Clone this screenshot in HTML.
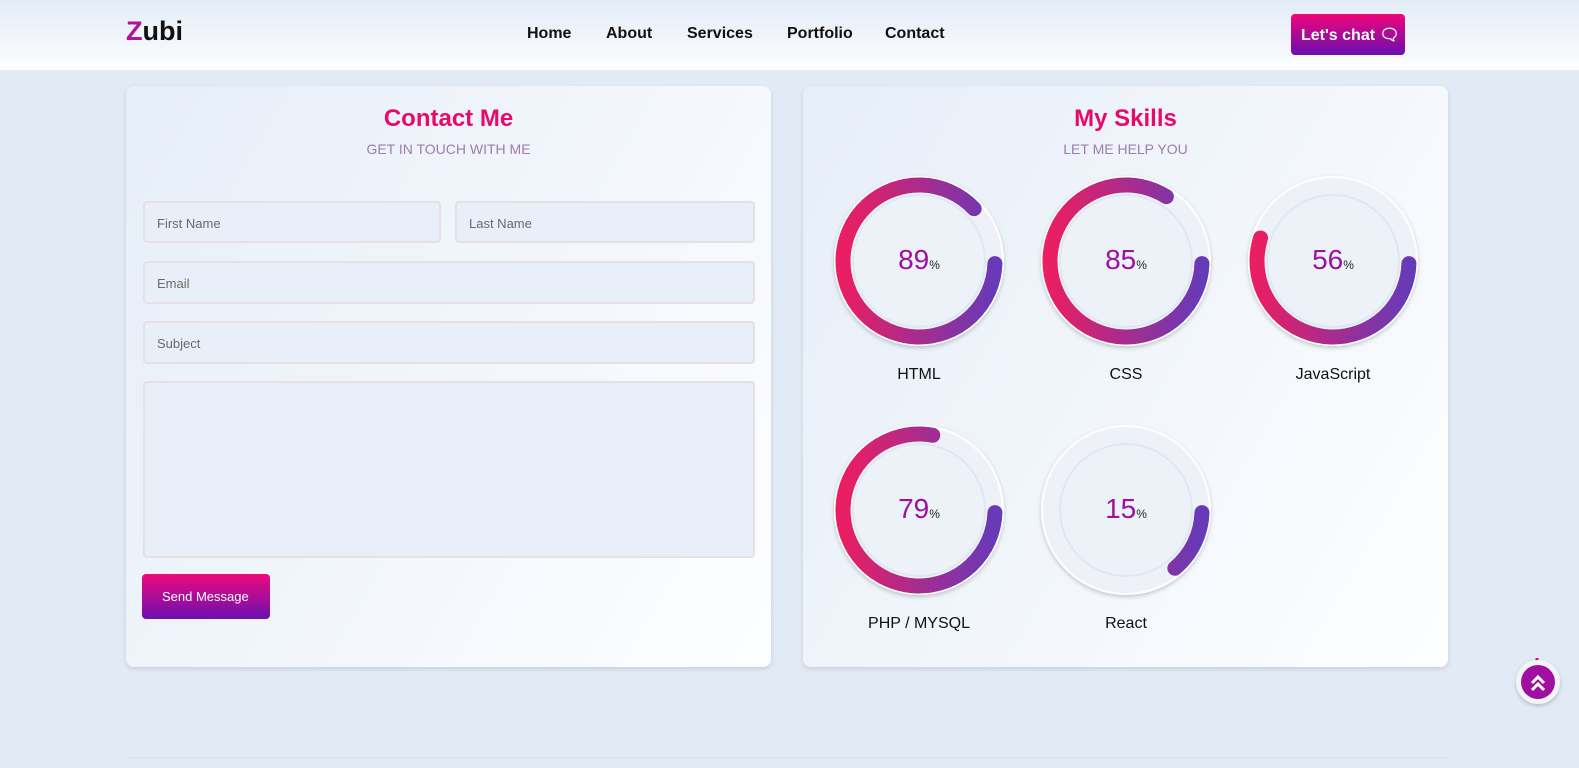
<!DOCTYPE html>
<html><head><meta charset="utf-8"><style>
*{box-sizing:border-box;margin:0;padding:0}
body{width:1579px;height:768px;overflow:hidden;background:#e2ebf5;font-family:"Liberation Sans",sans-serif;position:relative}
.hdr{position:absolute;left:0;top:0;width:1579px;height:70px;background:linear-gradient(#e4ecf6,#fcfdff)}
.logo{position:absolute;left:126px;top:16px;font-size:27px;font-weight:bold;color:#111}
.logo span{color:#b0109a}
.nav a{position:absolute;top:25px;font-size:16px;font-weight:bold;color:#111;text-decoration:none}
.chat{position:absolute;left:1291px;top:14px;width:114px;height:41px;border-radius:4px;background:linear-gradient(#f0067a,#6a0eb0);color:#fff;font-size:16px;font-weight:bold;padding:11px 0 0 10px}
.card{position:absolute;top:86px;width:645px;height:581px;border-radius:8px;background:linear-gradient(120deg,#e6eef8,#fdfeff);box-shadow:0 2px 5px rgba(0,0,0,.12)}
.h2{position:absolute;width:100%;text-align:center;top:19px;font-size:24px;font-weight:bold;color:#e8096c}
.sub{position:absolute;width:100%;text-align:center;top:55px;font-size:14px;color:#a07ab0}
.f{position:absolute;border:2px solid #e6dfe3;border-radius:4px;background:#e8eff8;font-size:13px;color:#6a6a6a;padding:13px 12px}
.btn{position:absolute;left:16px;top:488px;width:128px;height:45px;border-radius:4px;background:linear-gradient(#ee0a7c,#6a10b0);color:#fff;font-size:13px;padding:15px 0 0 20px}
.pct{position:absolute;width:180px;text-align:center;font-size:28px;color:#9d10a0}
.pct small{font-size:12px;color:#222}
.lbl{position:absolute;width:180px;text-align:center;font-size:16px;color:#111}
</style></head><body>
<div class="hdr">
<div class="logo"><span>Z</span>ubi</div>
<div class="nav"><a style="left:527px">Home</a><a style="left:606px">About</a><a style="left:687px">Services</a><a style="left:787px">Portfolio</a><a style="left:885px">Contact</a></div>
<div class="chat">Let's chat &#128488;</div>
</div>
<div class="card" style="left:126px">
<div class="h2">Contact Me</div><div class="sub">GET IN TOUCH WITH ME</div>
<div class="f" style="left:17px;top:115px;width:298px;height:42px">First Name</div>
<div class="f" style="left:329px;top:115px;width:300px;height:42px">Last Name</div>
<div class="f" style="left:17px;top:175px;width:612px;height:43px">Email</div>
<div class="f" style="left:17px;top:235px;width:612px;height:43px">Subject</div>
<div class="f" style="left:17px;top:295px;width:612px;height:177px"></div>
<div class="btn">Send Message</div>
</div>
<div class="card" style="left:803px">
<div class="h2">My Skills</div><div class="sub">LET ME HELP YOU</div>
</div>
<svg style="position:absolute;left:0;top:0" width="1579" height="768">
<defs>
<linearGradient id="g" x1="0" x2="1" y1="0" y2="0"><stop offset="0" stop-color="#ea1e62"/><stop offset="1" stop-color="#673ab7"/></linearGradient>
<filter id="sh"><feDropShadow dx="0" dy="2" stdDeviation="2" flood-opacity=".2"/></filter>
</defs>
<g id="c">
</g>
</svg>
<div id="sk"></div>
<script>
var d=[[919,261,89,"HTML"],[1126,261,85,"CSS"],[1333,261,56,"JavaScript"],[919,510,79,"PHP / MYSQL"],[1126,510,15,"React"]];
var s='',h='',C=2*Math.PI*76;
d.forEach(function(a){var x=a[0],y=a[1];
s+='<circle cx="'+x+'" cy="'+y+'" r="84" fill="#eef2f8" stroke="#fff" stroke-width="2" filter="url(#sh)"/>';
s+='<circle cx="'+x+'" cy="'+y+'" r="66" fill="#edf2f8" stroke="#dfe7f1" stroke-width="2"/>';
var len=C*a[2]/100-8;
s+='<g transform="translate('+x+' '+y+')"><circle r="76" fill="none" stroke="url(#g)" stroke-width="15" stroke-linecap="round" stroke-dasharray="'+len+' 9999" transform="rotate(2)" /></g>';
h+='<div class="pct" style="left:'+(x-90)+'px;top:'+(y-17)+'px">'+a[2]+'<small>%</small></div>';
h+='<div class="lbl" style="left:'+(x-90)+'px;top:'+(y+105)+'px">'+a[3]+'</div>';});
s+='<line x1="1537" y1="658" x2="1537" y2="667" stroke="#e6087a" stroke-width="3"/>';
s+='<circle cx="1538" cy="682" r="22" fill="#f2f4f8" filter="url(#sh)"/>';
s+='<circle cx="1538" cy="682" r="17" fill="#a010a0"/>';
s+='<path d="M1532 683l6-6 6 6M1532 690l6-6 6 6" fill="none" stroke="#fff" stroke-width="3"/>';
s+='<line x1="126" y1="758" x2="1448" y2="758" stroke="#d8e0ea"/>';
document.getElementById('c').innerHTML=s;
document.getElementById('sk').innerHTML=h;
</script>
</body></html>
